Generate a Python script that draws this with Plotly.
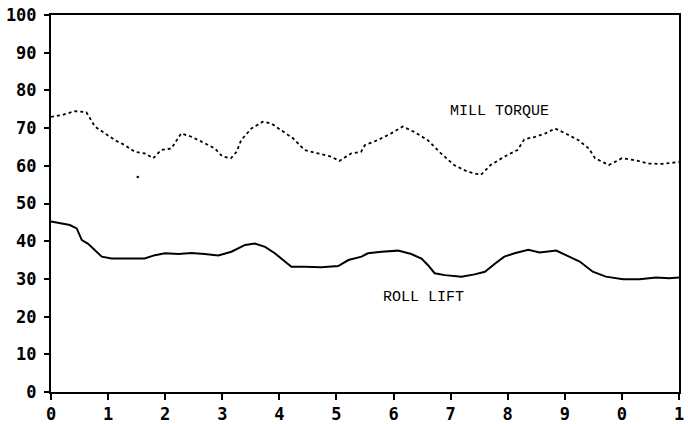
import plotly.graph_objects as go

# Time axis (positions along the chart) and values
torque_x = [0.0, 0.2, 0.42, 0.62, 0.77, 0.94, 1.12, 1.29, 1.47, 1.64, 1.79, 1.93, 2.11, 2.28,
            2.46, 2.69, 2.87, 3.0, 3.15, 3.25, 3.33, 3.51, 3.71, 3.86, 4.03, 4.24, 4.44, 4.67,
            4.91, 5.05, 5.26, 5.43, 5.5, 5.72, 5.96, 6.16, 6.36, 6.6, 6.83, 7.06, 7.3, 7.53,
            7.7, 7.94, 8.17, 8.29, 8.48, 8.66, 8.83, 9.01, 9.24, 9.42, 9.53, 9.77, 10.0,
            10.23, 10.47, 10.7, 10.93, 11.0]
torque_y = [73.0, 73.5, 74.5, 74.2, 70.4, 68.7, 66.8, 65.5, 63.7, 63.3, 62.0, 64.2, 64.6, 68.6,
            67.7, 66.0, 64.6, 62.5, 62.0, 63.7, 66.8, 69.9, 71.7, 71.2, 69.5, 67.3, 64.2, 63.3,
            62.4, 61.3, 63.3, 63.7, 65.5, 66.8, 68.6, 70.4, 69.0, 66.8, 63.3, 60.2, 58.4, 57.6,
            60.2, 62.4, 64.2, 67.0, 67.7, 68.6, 69.9, 68.6, 66.8, 64.6, 62.0, 60.2, 62.0,
            61.5, 60.6, 60.5, 60.8, 61.0]
torque_outlier_x = [1.52]
torque_outlier_y = [57.0]

lift_x = [0.0, 0.19, 0.33, 0.45, 0.54, 0.65, 0.77, 0.89, 1.06, 1.35, 1.64, 1.82, 2.0, 2.23,
          2.46, 2.69, 2.93, 3.16, 3.4, 3.57, 3.75, 3.92, 4.1, 4.21, 4.44, 4.74, 5.03, 5.21,
          5.44, 5.55, 5.79, 6.08, 6.31, 6.49, 6.6, 6.72, 6.9, 7.19, 7.42, 7.6, 7.78, 7.94,
          8.12, 8.36, 8.56, 8.85, 9.02, 9.26, 9.49, 9.72, 10.02, 10.31, 10.6, 10.83, 11.0]
lift_y = [45.2, 44.6, 44.3, 43.4, 40.3, 39.3, 37.7, 35.9, 35.4, 35.4, 35.4, 36.3, 36.8, 36.6,
          36.9, 36.6, 36.2, 37.2, 39.0, 39.4, 38.5, 36.8, 34.6, 33.2, 33.2, 33.1, 33.4, 35.0,
          35.9, 36.8, 37.2, 37.5, 36.6, 35.4, 33.7, 31.5, 31.0, 30.6, 31.2, 31.9, 34.1, 35.9,
          36.8, 37.7, 37.0, 37.5, 36.3, 34.6, 31.9, 30.6, 29.9, 29.9, 30.4, 30.2, 30.4]

x_tickvals = [0, 1, 2, 3, 4, 5, 6, 7, 8, 9, 10, 11]
x_ticktext = ["0", "1", "2", "3", "4", "5", "6", "7", "8", "9", "0", "1"]
y_tickvals = [0, 10, 20, 30, 40, 50, 60, 70, 80, 90, 100]

labels = ["MILL TORQUE", "ROLL LIFT"]
label_x = [7.86, 6.53]
label_y = [74.3, 25.2]

fig = go.Figure()
fig.add_trace(go.Scatter(x=torque_x, y=torque_y, mode="lines",
                         line=dict(color="black", width=1.8, dash="dot"),
                         showlegend=False, name=labels[0]))
fig.add_trace(go.Scatter(x=torque_outlier_x, y=torque_outlier_y, mode="markers",
                         marker=dict(color="black", size=2.5),
                         showlegend=False, name=labels[0]))
fig.add_trace(go.Scatter(x=lift_x, y=lift_y, mode="lines",
                         line=dict(color="black", width=2),
                         showlegend=False, name=labels[1]))

for t, ax_, ay_ in zip(labels, label_x, label_y):
    fig.add_annotation(x=ax_, y=ay_, text=t, showarrow=False,
                       font=dict(family="Liberation Mono", size=15, color="black"))

tickfont = dict(family="DejaVu Sans Mono", size=17, color="black", weight="bold")
fig.update_layout(
    width=688, height=424,
    margin=dict(l=51, r=9, t=15, b=32),
    paper_bgcolor="white", plot_bgcolor="white",
    xaxis=dict(range=[0, 11], tickvals=x_tickvals, ticktext=x_ticktext, automargin=False,
               showgrid=False, zeroline=False, showline=True, linecolor="black",
               linewidth=2, mirror=True, ticks="outside", ticklen=6, tickwidth=1.5,
               tickcolor="black", tickfont=tickfont),
    yaxis=dict(range=[0, 100], tickvals=y_tickvals, automargin=False,
               showgrid=False, zeroline=False, showline=True, linecolor="black",
               linewidth=2, mirror=True, ticks="outside", ticklen=5, tickwidth=1.5,
               tickcolor="black", tickfont=tickfont, ticklabelstandoff=4),
)

fig.write_html("out.html", config={"displayModeBar": False},
               post_script="document.body.style.margin='0';document.body.style.overflow='hidden';")
